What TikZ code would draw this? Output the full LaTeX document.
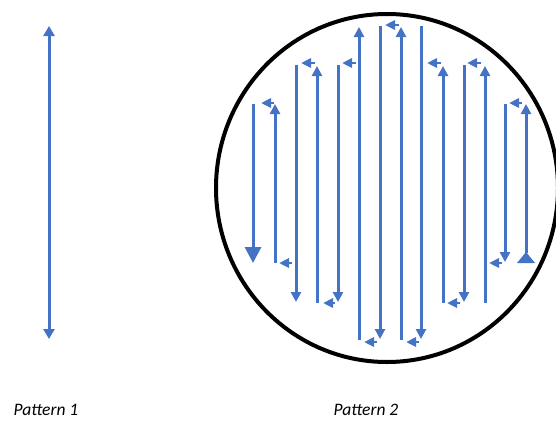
\documentclass[tikz,border=0pt]{standalone}
\usepackage{fontspec}
\setmainfont{Carlito}
\usetikzlibrary{arrows.meta}
\definecolor{runblue}{HTML}{4472C4}
\tikzset{
  run/.style={draw=runblue, line width=3pt},
  up/.style={run, -{Triangle[width=10pt,length=10pt]}},
  down/.style={run, -{Triangle[width=10pt,length=10pt]}},
  hop/.style={draw=runblue, line width=2.5pt, -{Triangle[width=9pt,length=10pt]}},
  caption/.style={anchor=west, font=\fontsize{17.5}{20}\selectfont\itshape}
}
\begin{document}
\begin{tikzpicture}[x=1pt, y=-1pt]
\useasboundingbox (0,0) rectangle (556,423);
% pattern 1
\draw[run, {Triangle[width=11pt,length=10pt]}-{Triangle[width=11pt,length=10pt]}] (49,26) -- (49,339);
\node[caption] (p1) at (10,410) {Pattern 1};
% pattern 2: wafer outline
\draw[line width=4pt] (387,188) ellipse [x radius=171, y radius=174];
% downward runs
\draw[run, -{Triangle[width=16pt,length=16pt]}] (253,104) -- (253,263);
\draw[down] (296,65) -- (296,302);
\draw[down] (338,65) -- (338,302);
\draw[down] (380,26) -- (380,339);
\draw[down] (421,26) -- (421,339);
\draw[down] (464,65) -- (464,302);
\draw[down] (505,104) -- (505,262);
% upward runs
\draw[up] (275,263) -- (275,104);
\draw[up] (317,303) -- (317,66);
\draw[up] (359,340) -- (359,27);
\draw[up] (401,340) -- (401,27);
\draw[up] (443,303) -- (443,66);
\draw[up] (485,303) -- (485,66);
\draw[up] (526,253) -- (526,104);
\fill[runblue] (517,263) -- (535,263) -- (526,252) -- cycle;
% hops at the top
\draw[hop] (274,103) -- (261,103);
\draw[hop] (315,63) -- (301,63);
\draw[hop] (356,63) -- (342,63);
\draw[hop] (399,25) -- (385,25);
\draw[hop] (441,63) -- (427,63);
\draw[hop] (481,63) -- (467,63);
\draw[hop] (522,103) -- (509,103);
% hops at the bottom
\draw[hop] (292,263) -- (279,263);
\draw[hop] (335,303) -- (323,303);
\draw[hop] (377,342) -- (364,342);
\draw[hop] (419,342) -- (406,342);
\draw[hop] (460,303) -- (447,303);
\draw[hop] (502,263) -- (489,263);
\node[caption] (p2) at (330,410) {Pattern 2};
\end{tikzpicture}
\end{document}
